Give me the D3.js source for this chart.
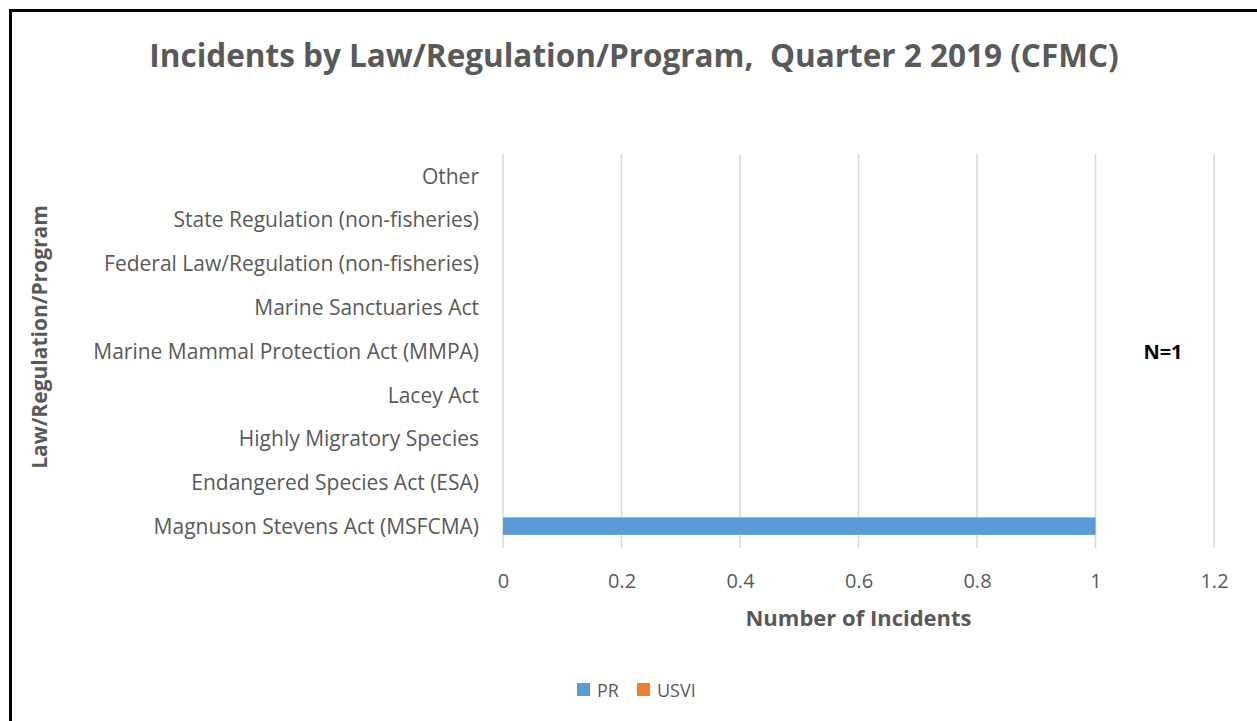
<!DOCTYPE html>
<html>
<head>
<meta charset="utf-8">
<script src="https://cdn.jsdelivr.net/npm/d3@7"></script>
<style>
  body { margin: 0; background: #fff; }
  svg text { font-family: "Open Sans", sans-serif; }
</style>
</head>
<body>
<svg id="chart" width="1257" height="721"></svg>
<script>
// data
var categories = [
  "Magnuson Stevens Act (MSFCMA)",
  "Endangered Species Act (ESA)",
  "Highly Migratory Species",
  "Lacey Act",
  "Marine Mammal Protection Act (MMPA)",
  "Marine Sanctuaries Act",
  "Federal Law/Regulation (non-fisheries)",
  "State Regulation (non-fisheries)",
  "Other"
];
var seriesNames = ["PR", "USVI"];
var prValues   = [1, 0, 0, 0, 0, 0, 0, 0, 0];
var usviValues = [0, 0, 0, 0, 0, 0, 0, 0, 0];
var xTicks = [0, 0.2, 0.4, 0.6, 0.8, 1, 1.2];
var colors = ["#5b9bd5", "#ed7d31"];

var svg = d3.select("#chart");

// outer frame (only top/left edges fall inside the picture)
svg.append("rect")
  .attr("x", 10.5).attr("y", 10.5)
  .attr("width", 1400).attr("height", 900)
  .attr("fill", "none")
  .attr("stroke", "#000")
  .attr("stroke-width", 3);

var plot = { left: 503, right: 1214, top: 154, bottom: 548 };

var x = d3.scaleLinear()
  .domain([0, 1.2])
  .range([plot.left, plot.right]);

// Excel draws the first category at the bottom
var y = d3.scaleBand()
  .domain(categories.slice().reverse())
  .range([plot.top, plot.bottom])
  .paddingInner(0.6)
  .paddingOuter(0.3);

// gridlines
svg.append("g")
  .selectAll("line")
  .data(xTicks)
  .enter()
  .append("line")
  .attr("x1", function(d) { return x(d); })
  .attr("x2", function(d) { return x(d); })
  .attr("y1", plot.top)
  .attr("y2", plot.bottom)
  .attr("stroke", "#d9d9d9")
  .attr("stroke-width", 1.5);

// bars: both series share the category slot
var series = [prValues, usviValues];
series.forEach(function(vals, i) {
  svg.append("g")
    .selectAll("rect")
    .data(vals)
    .enter()
    .append("rect")
    .attr("x", x(0))
    .attr("y", function(d, j) { return y(categories[j]); })
    .attr("width", function(d) { return x(d) - x(0); })
    .attr("height", y.bandwidth())
    .attr("fill", colors[i]);
});

// x axis labels
var xAxis = d3.axisBottom(x)
  .tickValues(xTicks)
  .tickSize(0)
  .tickPadding(0)
  .tickFormat(function(d) { return d3.format("")(+d.toFixed(1)); });

var gx = svg.append("g")
  .attr("transform", "translate(0," + (plot.bottom + 26) + ")")
  .call(xAxis);
gx.select(".domain").remove();
gx.selectAll("text")
  .attr("fill", "#595959")
  .style("font-size", "20px")
  .attr("dy", "0.71em");

// y axis labels
var yAxis = d3.axisLeft(y).tickSize(0).tickPadding(0);
var gy = svg.append("g")
  .attr("transform", "translate(" + (plot.left - 24) + ",1)")
  .call(yAxis);
gy.select(".domain").remove();
gy.selectAll("text")
  .attr("fill", "#595959")
  .style("font-size", "21px");

// title
svg.append("text")
  .attr("x", 634)
  .attr("y", 67)
  .attr("text-anchor", "middle")
  .attr("fill", "#595959")
  .style("font-size", "31.5px")
  .style("font-weight", "bold")
  .style("white-space", "pre")
  .text("Incidents by Law/Regulation/Program,  Quarter 2 2019 (CFMC)");

// axis titles
svg.append("text")
  .attr("x", x(0.6))
  .attr("y", 626)
  .attr("text-anchor", "middle")
  .attr("fill", "#595959")
  .style("font-size", "22px")
  .style("font-weight", "bold")
  .text("Number of Incidents");

svg.append("text")
  .attr("transform", "translate(47,337) rotate(-90)")
  .attr("text-anchor", "middle")
  .attr("fill", "#595959")
  .style("font-size", "21px")
  .style("font-weight", "bold")
  .text("Law/Regulation/Program");

// N annotation
svg.append("text")
  .attr("x", 1163)
  .attr("y", 359)
  .attr("text-anchor", "middle")
  .attr("fill", "#000")
  .style("font-size", "20px")
  .style("font-weight", "bold")
  .text("N=1");

// legend
var legend = svg.append("g")
  .attr("transform", "translate(577,683)")
  .selectAll("g")
  .data(seriesNames)
  .enter()
  .append("g")
  .attr("transform", function(d, i) { return "translate(" + (i * 60) + ",0)"; });

legend.append("rect")
  .attr("width", 13)
  .attr("height", 13)
  .attr("fill", function(d, i) { return colors[i]; });

legend.append("text")
  .attr("x", 20)
  .attr("y", 14)
  .attr("fill", "#595959")
  .style("font-size", "18px")
  .text(function(d) { return d; });
</script>
</body>
</html>
